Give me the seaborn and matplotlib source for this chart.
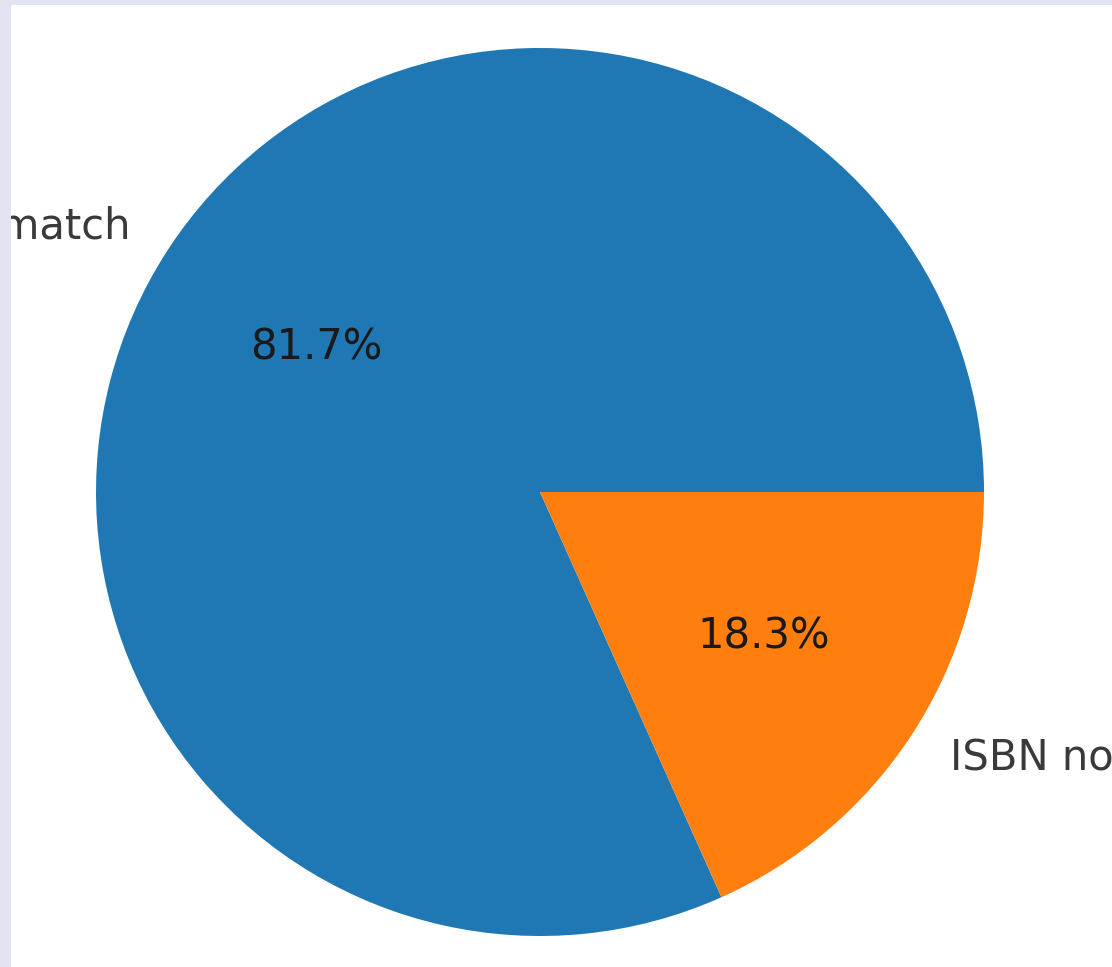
import matplotlib
matplotlib.use("Agg")
import matplotlib.pyplot as plt
from matplotlib.patches import Rectangle
import seaborn as sns

labels = ["ISBN match", "ISBN no match"]
shares = [81.7, 18.3]

sns.set_style("white")
colors = sns.color_palette("tab10", 2)
frame = "#e2e4f2"

fig = plt.figure(figsize=(11.12, 9.67), dpi=100, facecolor="white")

ax = fig.add_axes([0, 0, 1, 1])
ax.patch.set_alpha(0)
ax.pie(shares, labels=labels, colors=colors, autopct="%1.1f%%",
       wedgeprops={"linewidth": 0},
       textprops={"fontsize": 30, "color": "#3a3a3a"})
for t in ax.texts:
    if t.get_text().endswith("%"):
        t.set_color("#1a1a1a")

# place the pie so that it is cropped like the reference
r = 444
ax.set_aspect("auto")
ax.set_xlim(-540 / r, (1112 - 540) / r)
ax.set_ylim(-(967 - 492) / r, 492 / r)
ax.axis("off")

# lavender frame on the left and top, drawn above the labels
fig.patches.append(Rectangle((0, 0), 11 / 1112, 1, transform=fig.transFigure,
                             facecolor=frame, edgecolor="none", zorder=10))
fig.patches.append(Rectangle((0, 1 - 5 / 967), 1, 5 / 967, transform=fig.transFigure,
                             facecolor=frame, edgecolor="none", zorder=10))

fig.savefig("out.png", dpi=100)
